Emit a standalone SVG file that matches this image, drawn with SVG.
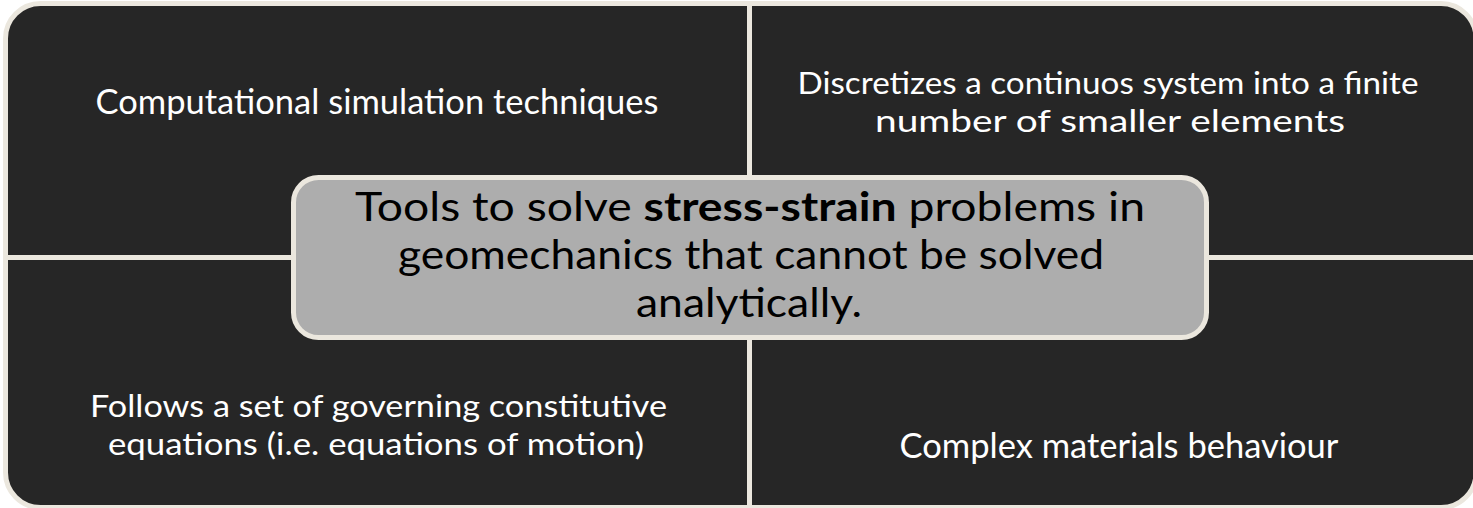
<svg xmlns="http://www.w3.org/2000/svg" width="1473" height="508" viewBox="0 0 1473 508">
<style>
.q{fill:#262626;stroke:#ebe7de;stroke-width:5}
.c{fill:#adadad;stroke:#ebe7de;stroke-width:5}
.t{font-family:Lato,"Open Sans",sans-serif;font-size:34.5px;fill:#ffffff;text-anchor:middle}
.t2{font-family:Lato,"Open Sans",sans-serif;font-size:31.5px;fill:#ffffff;text-anchor:middle}
.ct{font-family:Lato,"Open Sans",sans-serif;font-size:40px;fill:#000000;text-anchor:middle}
</style>
<rect x="0" y="0" width="1473" height="508" fill="#ffffff"/>
<g id="quad-tl">
<path class="q" d="M5.5 257.5 V38.5 A35 35 0 0 1 40.5 3.5 H749.5 V257.5 Z"/>
<text class="t" x="377" y="114">Computational simulation techniques</text>
</g>
<g id="quad-tr">
<path class="q" d="M749.5 3.5 H1441 A35 35 0 0 1 1476 38.5 V257.5 H749.5 Z"/>
<text class="t2" x="1108" y="94" textLength="621" lengthAdjust="spacingAndGlyphs">Discretizes a continuos system into a finite</text>
<text class="t2" x="1110" y="132" textLength="470" lengthAdjust="spacingAndGlyphs">number of smaller elements</text>
</g>
<g id="quad-bl">
<path class="q" d="M5.5 257.5 H749.5 V507.5 H40.5 A35 35 0 0 1 5.5 472.5 Z"/>
<text class="t2" x="378.5" y="417" textLength="577" lengthAdjust="spacingAndGlyphs">Follows a set of governing constitutive</text>
<text class="t2" x="376" y="455" textLength="536" lengthAdjust="spacingAndGlyphs">equations (i.e. equations of motion)</text>
</g>
<g id="quad-br">
<path class="q" d="M749.5 257.5 H1476 V472.5 A35 35 0 0 1 1441 507.5 H749.5 Z"/>
<text class="t" x="1119" y="458">Complex materials behaviour</text>
</g>
<g id="center">
<rect class="c" x="293.5" y="177.5" width="913" height="160" rx="25"/>
<text class="ct" x="750" y="221" textLength="790" lengthAdjust="spacingAndGlyphs">Tools to solve <tspan font-weight="bold">stress-strain</tspan> problems in</text>
<text class="ct" x="751" y="269" textLength="706" lengthAdjust="spacingAndGlyphs">geomechanics that cannot be solved</text>
<text class="ct" x="749" y="317" textLength="226" lengthAdjust="spacingAndGlyphs">analytically.</text>
</g>
</svg>
